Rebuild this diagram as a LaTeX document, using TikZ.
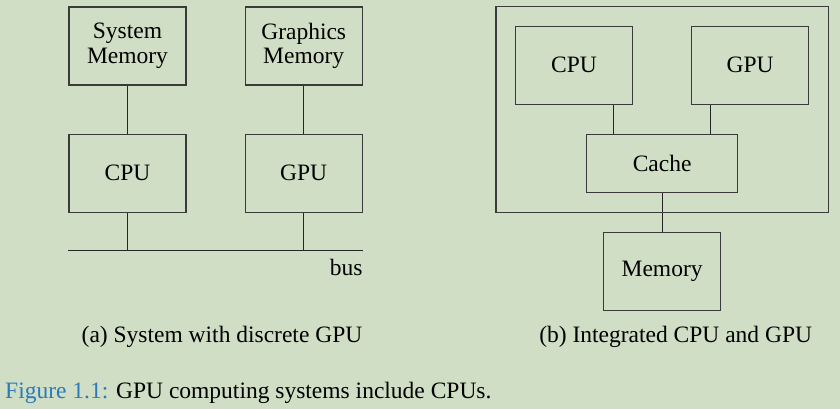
\documentclass[tikz,border=0pt]{standalone}
\usepackage{fontspec}
\setmainfont{Liberation Serif}
\usetikzlibrary{positioning, fit, calc}

\definecolor{pagebg}{HTML}{CFDEC4}
\definecolor{capblue}{HTML}{2B7BB9}
\definecolor{boxline}{HTML}{3A3A3A}

\begin{document}
\begin{tikzpicture}[x=1pt, y=1pt, node distance=48pt and 58pt]

\tikzset{
  unit/.style={
    rectangle, draw=boxline, line width=1.2pt, align=center,
    minimum height=78pt, minimum width=117pt,
    inner sep=2pt, font=\fontsize{23.5}{24.5}\selectfont
  },
  link/.style={line width=1.1pt, draw=black!85},
  chip/.style={draw=boxline, line width=1.2pt, inner sep=19pt},
  caption/.style={font=\fontsize{23.5}{25}\selectfont}
}

% background and page size
\fill[pagebg] (0,0) rectangle (840,-409);
\useasboundingbox (0,0) rectangle (840,-409);

% ==========================
% (a) discrete GPU
% ==========================
\node[unit] (sysmem) at (127.5,-46) {System\\Memory};
\node[unit, right=of sysmem] (gfxmem) {Graphics\\Memory};
\node[unit, below=of sysmem] (cpu) {CPU};
\node[unit, below=of gfxmem] (gpu) {GPU};

\draw[link] (sysmem) -- (cpu);
\draw[link] (gfxmem) -- (gpu);

% bus
\coordinate (busL) at ([yshift=-38pt]cpu.south west);
\coordinate (busR) at ([yshift=-38pt]gpu.south east);
\draw[link] (busL) -- (busR);
\draw[link] (cpu) -- (cpu |- busL);
\draw[link] (gpu) -- (gpu |- busL);
\node[caption, anchor=north east, inner sep=0pt] (buslbl) at ([yshift=-8pt]busR) {bus};

\node[caption] (capA) at (222,-337) {(a) System with discrete GPU};

% ==========================
% (b) integrated CPU and GPU
% ==========================
\node[unit] (icpu) at (574,-65.3) {CPU};
\node[unit, right=of icpu] (igpu) {GPU};
\coordinate (imid) at ($(icpu.south)!0.5!(igpu.south)$);
\node[unit, minimum width=151pt, minimum height=58pt, below=29pt of imid] (cache) {Cache};
\node[unit, below=39pt of cache] (mem) {Memory};

\coordinate (cacheL) at ($(cache.north west)!0.18!(cache.north east)$);
\coordinate (cacheR) at ($(cache.north east)!0.18!(cache.north west)$);
\draw[link] (cacheL) -- (icpu.south -| cacheL);
\draw[link] (cacheR) -- (igpu.south -| cacheR);
\draw[link] (cache) -- (mem);

% chip frame
\node[chip, fit=(icpu)(igpu)(cache)] (frameChip) {};

\node[caption] (capB) at (675.7,-337) {(b) Integrated CPU and GPU};

% figure caption
\node[caption, anchor=base west, inner sep=0pt] (figcap) at (5,-398)
{\textcolor{capblue}{Figure 1.1:} GPU computing systems include CPUs.};

\end{tikzpicture}
\end{document}
